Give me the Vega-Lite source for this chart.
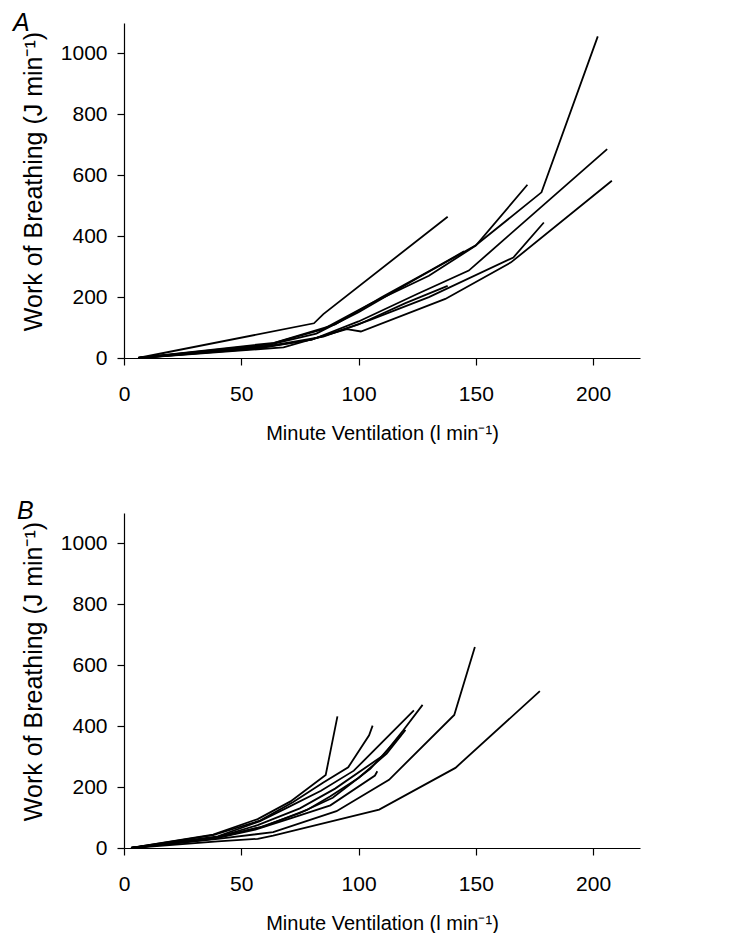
{
  "$schema": "https://vega.github.io/schema/vega-lite/v6.json",
  "background": "white",
  "padding": {"left": 13, "top": 11, "right": 5, "bottom": 0},
  "spacing": 155,
  "bounds": "flush",
  "config": {
    "font": "Liberation Sans",
    "view": {"stroke": null},
    "axis": {
      "grid": false,
      "domainColor": "black",
      "tickColor": "black",
      "labelColor": "black",
      "titleColor": "black",
      "labelFont": "Liberation Sans",
      "titleFont": "Liberation Sans",
      "labelFontSize": 21,
      "titleFontSize": 20,
      "titleFontWeight": "normal",
      "tickSize": 7,
      "domainWidth": 1.2,
      "tickWidth": 1.2,
      "labelFlush": false,
      "format": "d"
    },
    "line": {"color": "black", "strokeWidth": 1.8}
  },
  "datasets": {
    "A": [
      {"s": "a1", "x": 6, "y": 0}, {"s": "a1", "x": 60, "y": 40}, {"s": "a1", "x": 82, "y": 80}, {"s": "a1", "x": 100, "y": 150}, {"s": "a1", "x": 125, "y": 262}, {"s": "a1", "x": 150, "y": 370}, {"s": "a1", "x": 178, "y": 544}, {"s": "a1", "x": 202, "y": 1056},
      {"s": "a2", "x": 6, "y": 0}, {"s": "a2", "x": 62, "y": 45}, {"s": "a2", "x": 85, "y": 95}, {"s": "a2", "x": 105, "y": 178}, {"s": "a2", "x": 130, "y": 270}, {"s": "a2", "x": 150, "y": 369}, {"s": "a2", "x": 172, "y": 569},
      {"s": "a3", "x": 6, "y": 0}, {"s": "a3", "x": 64, "y": 50}, {"s": "a3", "x": 90, "y": 110}, {"s": "a3", "x": 110, "y": 200}, {"s": "a3", "x": 130, "y": 285}, {"s": "a3", "x": 145, "y": 350},
      {"s": "a4", "x": 6, "y": 0}, {"s": "a4", "x": 81, "y": 114}, {"s": "a4", "x": 85, "y": 144}, {"s": "a4", "x": 138, "y": 464},
      {"s": "a5", "x": 6, "y": 0}, {"s": "a5", "x": 60, "y": 35}, {"s": "a5", "x": 80, "y": 60}, {"s": "a5", "x": 100, "y": 120}, {"s": "a5", "x": 125, "y": 210}, {"s": "a5", "x": 147, "y": 287}, {"s": "a5", "x": 206, "y": 686},
      {"s": "a6", "x": 6, "y": 0}, {"s": "a6", "x": 55, "y": 30}, {"s": "a6", "x": 80, "y": 60}, {"s": "a6", "x": 100, "y": 110}, {"s": "a6", "x": 120, "y": 180}, {"s": "a6", "x": 138, "y": 237},
      {"s": "a7", "x": 6, "y": 0}, {"s": "a7", "x": 62, "y": 40}, {"s": "a7", "x": 85, "y": 70}, {"s": "a7", "x": 105, "y": 125}, {"s": "a7", "x": 130, "y": 200}, {"s": "a7", "x": 166, "y": 330}, {"s": "a7", "x": 179, "y": 445},
      {"s": "a8", "x": 6, "y": 0}, {"s": "a8", "x": 68, "y": 35}, {"s": "a8", "x": 95, "y": 95}, {"s": "a8", "x": 101, "y": 87}, {"s": "a8", "x": 137, "y": 194}, {"s": "a8", "x": 165, "y": 314}, {"s": "a8", "x": 208, "y": 582}
    ],
    "B": [
      {"s": "b1", "x": 3, "y": 0}, {"s": "b1", "x": 38, "y": 44}, {"s": "b1", "x": 57, "y": 95}, {"s": "b1", "x": 71, "y": 153}, {"s": "b1", "x": 86, "y": 240}, {"s": "b1", "x": 91, "y": 432},
      {"s": "b2", "x": 3, "y": 0}, {"s": "b2", "x": 38, "y": 42}, {"s": "b2", "x": 58, "y": 90}, {"s": "b2", "x": 72, "y": 150}, {"s": "b2", "x": 85, "y": 215}, {"s": "b2", "x": 95.6, "y": 265}, {"s": "b2", "x": 104.5, "y": 370}, {"s": "b2", "x": 106, "y": 402},
      {"s": "b3", "x": 3, "y": 0}, {"s": "b3", "x": 40, "y": 38}, {"s": "b3", "x": 58, "y": 88}, {"s": "b3", "x": 69, "y": 130}, {"s": "b3", "x": 84, "y": 188}, {"s": "b3", "x": 98, "y": 254}, {"s": "b3", "x": 123.6, "y": 452},
      {"s": "b4", "x": 3, "y": 0}, {"s": "b4", "x": 40, "y": 36}, {"s": "b4", "x": 57, "y": 75}, {"s": "b4", "x": 75, "y": 130}, {"s": "b4", "x": 90, "y": 195}, {"s": "b4", "x": 110.5, "y": 304}, {"s": "b4", "x": 119, "y": 386}, {"s": "b4", "x": 127.3, "y": 470},
      {"s": "b5", "x": 3, "y": 0}, {"s": "b5", "x": 40, "y": 34}, {"s": "b5", "x": 60, "y": 72}, {"s": "b5", "x": 78, "y": 125}, {"s": "b5", "x": 88, "y": 170}, {"s": "b5", "x": 100, "y": 230}, {"s": "b5", "x": 112, "y": 310}, {"s": "b5", "x": 120, "y": 388},
      {"s": "b6", "x": 3, "y": 0}, {"s": "b6", "x": 38, "y": 32}, {"s": "b6", "x": 58, "y": 68}, {"s": "b6", "x": 75, "y": 115}, {"s": "b6", "x": 89, "y": 165}, {"s": "b6", "x": 105, "y": 260}, {"s": "b6", "x": 118, "y": 370},
      {"s": "b7", "x": 3, "y": 0}, {"s": "b7", "x": 38, "y": 30}, {"s": "b7", "x": 56, "y": 60}, {"s": "b7", "x": 72, "y": 100}, {"s": "b7", "x": 88, "y": 140}, {"s": "b7", "x": 107, "y": 238}, {"s": "b7", "x": 108, "y": 252},
      {"s": "b8", "x": 3, "y": 0}, {"s": "b8", "x": 40, "y": 30}, {"s": "b8", "x": 63.6, "y": 52}, {"s": "b8", "x": 90.6, "y": 121}, {"s": "b8", "x": 113, "y": 224}, {"s": "b8", "x": 140.8, "y": 437}, {"s": "b8", "x": 149.6, "y": 660},
      {"s": "b9", "x": 3, "y": 0}, {"s": "b9", "x": 40, "y": 22}, {"s": "b9", "x": 57, "y": 30}, {"s": "b9", "x": 63.6, "y": 41}, {"s": "b9", "x": 91, "y": 92}, {"s": "b9", "x": 108.8, "y": 126}, {"s": "b9", "x": 141.3, "y": 263}, {"s": "b9", "x": 177.3, "y": 515}
    ]
  },
  "vconcat": [
    {
      "width": 516,
      "height": 335,
      "title": {"text": "A", "anchor": "start", "frame": "group", "dx": -111, "dy": 24, "offset": -9, "baseline": "alphabetic", "fontSize": 25, "fontStyle": "italic", "fontWeight": "normal", "font": "Liberation Sans", "color": "black"},
      "data": {"name": "A"},
      "mark": {"type": "line"},
      "encoding": {
        "x": {"field": "x", "type": "quantitative", "scale": {"domain": [0, 220], "nice": false}, "axis": {"values": [0, 50, 100, 150, 200], "title": "Minute Ventilation (l min⁻¹)", "labelPadding": 18, "titlePadding": 19}},
        "y": {"field": "y", "type": "quantitative", "scale": {"domain": [0, 1100], "nice": false}, "axis": {"values": [0, 200, 400, 600, 800, 1000], "title": "Work of Breathing (J min⁻¹)", "titleFontSize": 25, "titleY": 158, "labelPadding": 10, "titlePadding": 14}},
        "detail": {"field": "s"}
      }
    },
    {
      "width": 516,
      "height": 335,
      "title": {"text": "B", "anchor": "start", "frame": "group", "dx": -107, "dy": 24, "offset": -7, "baseline": "alphabetic", "fontSize": 25, "fontStyle": "italic", "fontWeight": "normal", "font": "Liberation Sans", "color": "black"},
      "data": {"name": "B"},
      "mark": {"type": "line"},
      "encoding": {
        "x": {"field": "x", "type": "quantitative", "scale": {"domain": [0, 220], "nice": false}, "axis": {"values": [0, 50, 100, 150, 200], "title": "Minute Ventilation (l min⁻¹)", "labelPadding": 18, "titlePadding": 19}},
        "y": {"field": "y", "type": "quantitative", "scale": {"domain": [0, 1100], "nice": false}, "axis": {"values": [0, 200, 400, 600, 800, 1000], "title": "Work of Breathing (J min⁻¹)", "titleFontSize": 25, "titleY": 158, "labelPadding": 10, "titlePadding": 14}},
        "detail": {"field": "s"}
      }
    }
  ]
}
